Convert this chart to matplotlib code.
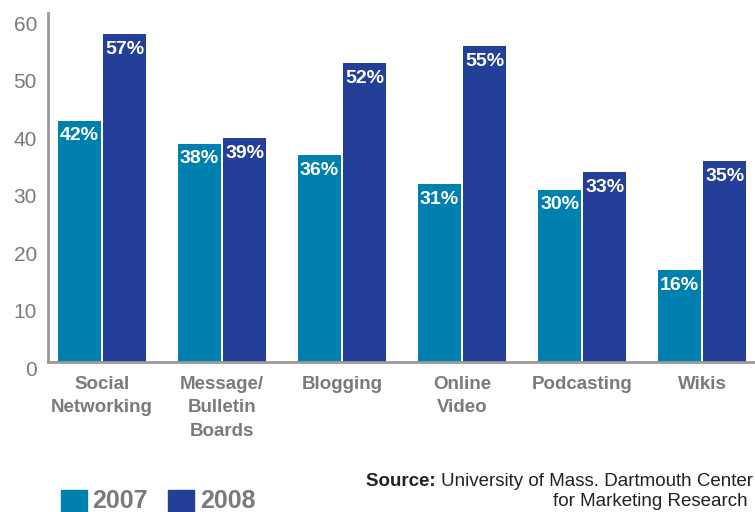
import numpy as np
import matplotlib.pyplot as plt
from matplotlib import transforms

plt.rcParams['font.family'] = ['Liberation Sans', 'DejaVu Sans']

## Data
categories = ["Social\nNetworking", "Message/\nBulletin\nBoards", "Blogging",
              "Online\nVideo", "Podcasting", "Wikis"]
vals_2007 = [42, 38, 36, 31, 30, 16]
vals_2008 = [57, 39, 52, 55, 33, 35]
yticks = [0, 10, 20, 30, 40, 50, 60]

c07 = "#0080ae"
c08 = "#233f98"
grey = "#7a7a7a"

fig = plt.figure(figsize=(7.55, 5.12), dpi=100)
ax = fig.add_axes([48 / 755, 1 - 362 / 512, 1 - 48 / 755, (362 - 13) / 512])

x = np.arange(len(categories))
w = 0.358
gap = 0.009
b1 = ax.bar(x - w / 2 - gap, vals_2007, w, color=c07)
b2 = ax.bar(x + w / 2 + gap, vals_2008, w, color=c08)

for bars, vals in ((b1, vals_2007), (b2, vals_2008)):
    for rect, v in zip(bars, vals):
        ax.annotate(f"{v}%", (rect.get_x() + rect.get_width() / 2, v),
                    xytext=(0, -5), textcoords="offset points",
                    ha="center", va="top", color="white",
                    fontsize=14, fontweight="bold")

ax.set_xlim(-0.45, 5.44)
ax.set_ylim(0, 60.7)
ax.set_yticks(yticks)
ax.set_xticks([])
for s in ("top", "right"):
    ax.spines[s].set_visible(False)
for s in ("left", "bottom"):
    ax.spines[s].set_color("#999999")
    ax.spines[s].set_linewidth(2)
ax.tick_params(axis="y", length=0, pad=8, labelsize=15, labelcolor=grey)
off = transforms.ScaledTranslation(0, -6 / 100, fig.dpi_scale_trans)
for lab in ax.get_yticklabels():
    lab.set_transform(lab.get_transform() + off)

# category labels
for xi, cat in zip(x, categories):
    ax.annotate(cat, (xi, 0), xytext=(0, -10), textcoords="offset points",
                ha="center", va="top", fontsize=13.5, fontweight="bold",
                color=grey, linespacing=1.5, annotation_clip=False)

# legend
fig.patches.append(plt.Rectangle((61 / 755, 0), 26 / 755, 22 / 512,
                                 transform=fig.transFigure, color=c07))
fig.patches.append(plt.Rectangle((168 / 755, 0), 26 / 755, 22 / 512,
                                 transform=fig.transFigure, color=c08))
fig.text(92 / 755, 1 - 508 / 512, "2007", fontsize=18, fontweight="bold",
         color=grey, va="baseline")
fig.text(200 / 755, 1 - 508 / 512, "2008", fontsize=18, fontweight="bold",
         color=grey, va="baseline")

# source
t = fig.text(753 / 755, 1 - 486 / 512, "University of Mass. Dartmouth Center",
             fontsize=13.5, color="#222222", ha="right", va="baseline")
ax.annotate("Source: ", xy=(0, 0), xycoords=t, ha="right", va="bottom",
            fontsize=13.5, fontweight="bold", color="#222222")
fig.text(748 / 755, 1 - 506 / 512, "for Marketing Research",
         fontsize=13.5, color="#222222", ha="right", va="baseline")

plt.savefig("out.png")
